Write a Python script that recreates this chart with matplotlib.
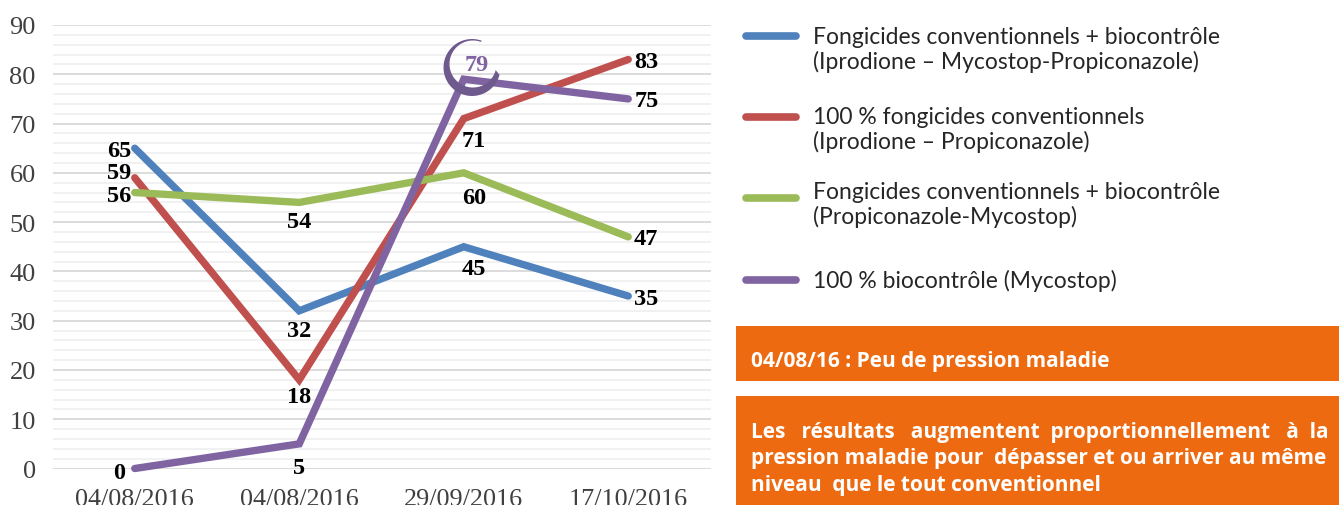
#!/usr/bin/env python3
import numpy as np
import matplotlib
matplotlib.use("Agg")
import matplotlib.pyplot as plt
from matplotlib.patches import Polygon, Rectangle

W, H = 1339, 506

dates = ["04/08/2016", "04/08/2016", "29/09/2016", "17/10/2016"]
mixte_iprodione = [65, 32, 45, 35]
conventionnel = [59, 18, 71, 83]
mixte_propi = [56, 54, 60, 47]
biocontrole = [0, 5, 79, 75]

BLUE = "#4f81bd"
RED = "#c0504d"
GREEN = "#9bbb59"
PURPLE = "#8064a2"
ORANGE = "#ee6a10"

legend_labels = [
    "Fongicides conventionnels + biocontrôle\n(Iprodione – Mycostop-Propiconazole)",
    "100 % fongicides conventionnels\n(Iprodione – Propiconazole)",
    "Fongicides conventionnels + biocontrôle\n(Propiconazole-Mycostop)",
    "100 % biocontrôle (Mycostop)",
]
legend_y = [37, 118, 199, 281]
legend_text_y = [50, 130, 205, 281]
legend_colors = [BLUE, RED, GREEN, PURPLE]

# label offsets in pixels, one per point
series = [
    (mixte_iprodione, BLUE, [(-16, -2), (0, -20), (10, -22), (18, -2)]),
    (conventionnel, RED, [(-16, 5), (0, -17), (10, -22), (18, -2)]),
    (mixte_propi, GREEN, [(-16, -3), (0, -19), (10, -25), (18, -2)]),
    (biocontrole, PURPLE, [(-16, -4), (0, -24), (13, 15), (18, -2)]),
]

fig = plt.figure(figsize=(W / 100, H / 100), dpi=100)
ax = fig.add_axes([52.5 / W, 1 - 469.5 / H, 658 / W, 443.5 / H])
x = np.arange(len(dates))
ax.set_xlim(-0.5, 3.5)
ax.set_ylim(0, 90)
ax.patch.set_alpha(0)
ax.set_yticks(range(0, 91, 10))
ax.set_yticks(range(0, 91, 2), minor=True)
ax.set_xticks(x, dates)
ax.grid(axis="y", which="major", color="#d9d9d9", lw=1.3)
ax.grid(axis="y", which="minor", color="#f0f0f0", lw=1.3)
ax.set_axisbelow(True)
for s in ax.spines.values():
    s.set_visible(False)
ax.tick_params(which="both", length=0)
ax.tick_params(axis="y", labelsize=19, pad=12, labelcolor="#404040")
ax.tick_params(axis="x", labelsize=18.8, pad=14, labelcolor="#404040")
for t in ax.get_xticklabels() + ax.get_yticklabels():
    t.set_family("Liberation Serif")
    t.set_clip_on(False)

for vals, col, offs in series:
    ax.plot(x, vals, color=col, lw=5.3, solid_capstyle="round", solid_joinstyle="miter", clip_on=False, zorder=3)
    for i, v in enumerate(vals):
        c = PURPLE if (col == PURPLE and v == 79) else "black"
        ax.annotate(str(v), (x[i], v), xytext=(offs[i][0] * 0.72, offs[i][1] * 0.72),
                    textcoords="offset points", ha="center", va="center", fontsize=17.5,
                    fontweight="bold", family="Liberation Serif", color=c, zorder=5,
                    annotation_clip=False)

# overlay in pixel coordinates for the legend, boxes and crescent
ov = fig.add_axes([0, 0, 1, 1], zorder=5)
ov.set_xlim(0, W)
ov.set_ylim(H, 0)
ov.axis("off")

th_out = np.radians(np.linspace(-70, -345, 60))
th_in = th_out[::-1]
outer = np.c_[472 + 28.5 * np.cos(th_out), 68.5 + 28.5 * np.sin(th_out)]
inner = np.c_[473 + 23.5 * np.cos(th_in), 65 + 23.5 * np.sin(th_in)]
ov.add_patch(Polygon(np.r_[outer, inner], closed=True, fc="#6f5a8e", ec="none"))

for lab, y, ty, col in zip(legend_labels, legend_y, legend_text_y, legend_colors):
    ov.plot([746, 796], [y, y], color=col, lw=5.5, solid_capstyle="round")
    ov.text(813, ty, lab, fontsize=16.5, family="Lato", color="#262626",
            va="center", ha="left", linespacing=1.13)

ov.add_patch(Rectangle((736, 326.5), 603, 55, fc=ORANGE, ec="none"))
ov.add_patch(Rectangle((736, 396.5), 603, 110, fc=ORANGE, ec="none"))
box_lines = [
    (361, "04/08/16 : Peu de pression maladie"),
    (433, "Les   résultats   augmentent  proportionnellement   à  la"),
    (459, "pression maladie pour  dépasser et ou arriver au même"),
    (486, "niveau  que le tout conventionnel"),
]
for y, line in box_lines:
    ov.text(751, y, line, color="white", fontsize=15, fontweight="bold",
            family="Open Sans", va="center", ha="left")

fig.savefig("out.png", dpi=100)
